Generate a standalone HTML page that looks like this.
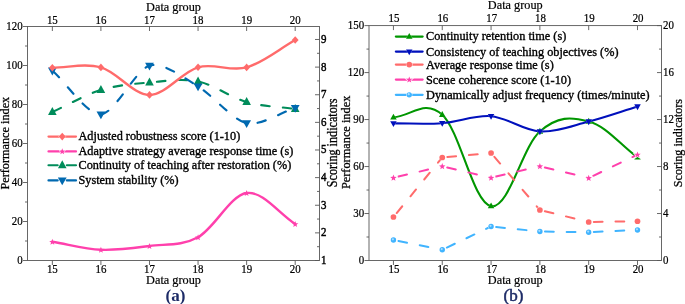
<!DOCTYPE html>
<html lang="en"><head><meta charset="utf-8"><title>Chart</title>
<style>html,body{margin:0;padding:0;background:#fff}svg{display:block}</style>
</head><body>
<svg width="685" height="304" viewBox="0 0 685 304" font-family='"Liberation Serif", "Times New Roman", serif' fill="#000">
<rect width="685" height="304" fill="#fff"/>
<path d="M52.35 112C68.54 104.67 84.73 94.92 100.92 90C117.11 85.08 133.3 83.92 149.49 82.5C165.68 81.08 181.87 78.25 198.06 81.5C214.25 84.75 230.44 97.42 246.63 102C262.82 106.58 279.01 106.67 295.2 109" fill="none" stroke="#008c5a" stroke-width="2.15" stroke-linejoin="round" stroke-linecap="round" stroke-dasharray="8.5 13.3" stroke-dashoffset="-1.1"/>
<path d="M52.35 107.09L56.65 114.89L48.05 114.89Z" fill="#008c5a"/>
<path d="M100.92 85.09L105.22 92.89L96.62 92.89Z" fill="#008c5a"/>
<path d="M149.49 77.59L153.79 85.39L145.19 85.39Z" fill="#008c5a"/>
<path d="M198.06 76.59L202.36 84.39L193.76 84.39Z" fill="#008c5a"/>
<path d="M246.63 97.09L250.93 104.89L242.33 104.89Z" fill="#008c5a"/>
<path d="M295.2 104.09L299.5 111.89L290.9 111.89Z" fill="#008c5a"/>
<path d="M52.35 70.5C66.11 82.91 87.16 114.99 100.92 114.3C114.68 113.61 135.73 69.55 149.49 65.6C163.25 61.65 184.3 78.24 198.06 86.4C211.82 94.56 232.87 120.15 246.63 123.2C260.39 126.25 281.44 112.23 295.2 107.9" fill="none" stroke="#0069b0" stroke-width="2.15" stroke-linejoin="round" stroke-linecap="round" stroke-dasharray="8.5 13.3" stroke-dashoffset="-1.1"/>
<path d="M52.35 75.41L56.75 67.61L47.95 67.61Z" fill="#0069b0"/>
<path d="M100.92 119.21L105.32 111.41L96.52 111.41Z" fill="#0069b0"/>
<path d="M149.49 70.51L153.89 62.71L145.09 62.71Z" fill="#0069b0"/>
<path d="M198.06 91.31L202.46 83.51L193.66 83.51Z" fill="#0069b0"/>
<path d="M246.63 128.11L251.03 120.31L242.23 120.31Z" fill="#0069b0"/>
<path d="M295.2 112.81L299.6 105.01L290.8 105.01Z" fill="#0069b0"/>
<path d="M52.35 67.7C68.54 67.6 84.73 62.87 100.92 67.4C117.11 71.93 133.3 94.92 149.49 94.9C165.68 94.88 181.87 71.88 198.06 67.3C214.25 62.72 230.44 71.95 246.63 67.4C262.82 62.85 279.01 49.13 295.2 40" fill="none" stroke="#ff6b6b" stroke-width="2.4" stroke-linejoin="round" stroke-linecap="round"/>
<path d="M52.35 63.9L55.75 67.7L52.35 71.5L48.95 67.7Z" fill="#ff6b6b"/>
<path d="M100.92 63.6L104.32 67.4L100.92 71.2L97.52 67.4Z" fill="#ff6b6b"/>
<path d="M149.49 91.1L152.89 94.9L149.49 98.7L146.09 94.9Z" fill="#ff6b6b"/>
<path d="M198.06 63.5L201.46 67.3L198.06 71.1L194.66 67.3Z" fill="#ff6b6b"/>
<path d="M246.63 63.6L250.03 67.4L246.63 71.2L243.23 67.4Z" fill="#ff6b6b"/>
<path d="M295.2 36.2L298.6 40L295.2 43.8L291.8 40Z" fill="#ff6b6b"/>
<path d="M52.35 241.75C68.54 244.42 84.73 249.04 100.92 249.75C117.11 250.46 133.3 248.08 149.49 246C165.68 243.92 181.87 246.08 198.06 237.25C214.25 228.42 230.44 195.21 246.63 193C262.82 190.79 279.01 213.67 295.2 224" fill="none" stroke="#ff40ac" stroke-width="2.4" stroke-linejoin="round" stroke-linecap="round"/>
<path d="M52.35 238.7L53.16 240.88L55.49 240.98L53.67 242.43L54.29 244.67L52.35 243.39L50.41 244.67L51.03 242.43L49.21 240.98L51.54 240.88Z" fill="#ff40ac"/>
<path d="M100.92 246.7L101.73 248.88L104.06 248.98L102.24 250.43L102.86 252.67L100.92 251.39L98.98 252.67L99.6 250.43L97.78 248.98L100.11 248.88Z" fill="#ff40ac"/>
<path d="M149.49 242.95L150.3 245.13L152.63 245.23L150.81 246.68L151.43 248.92L149.49 247.64L147.55 248.92L148.17 246.68L146.35 245.23L148.68 245.13Z" fill="#ff40ac"/>
<path d="M198.06 234.2L198.87 236.38L201.2 236.48L199.38 237.93L200 240.17L198.06 238.89L196.12 240.17L196.74 237.93L194.92 236.48L197.25 236.38Z" fill="#ff40ac"/>
<path d="M246.63 189.95L247.44 192.13L249.77 192.23L247.95 193.68L248.57 195.92L246.63 194.64L244.69 195.92L245.31 193.68L243.49 192.23L245.82 192.13Z" fill="#ff40ac"/>
<path d="M295.2 220.95L296.01 223.13L298.34 223.23L296.52 224.68L297.14 226.92L295.2 225.64L293.26 226.92L293.88 224.68L292.06 223.23L294.39 223.13Z" fill="#ff40ac"/>
<rect x="27.5" y="26.5" width="292.0" height="234.0" fill="none" stroke="#585858" stroke-width="0.9"/>
<text transform="translate(52.35 272.9) scale(1 1.17)" text-anchor="middle" font-size="10.9" stroke="#000" stroke-width="0.2">15</text>
<text transform="translate(52.35 23.7) scale(1 1.17)" text-anchor="middle" font-size="10.9" stroke="#000" stroke-width="0.2">15</text>
<text transform="translate(100.92 272.9) scale(1 1.17)" text-anchor="middle" font-size="10.9" stroke="#000" stroke-width="0.2">16</text>
<text transform="translate(100.92 23.7) scale(1 1.17)" text-anchor="middle" font-size="10.9" stroke="#000" stroke-width="0.2">16</text>
<text transform="translate(149.49 272.9) scale(1 1.17)" text-anchor="middle" font-size="10.9" stroke="#000" stroke-width="0.2">17</text>
<text transform="translate(149.49 23.7) scale(1 1.17)" text-anchor="middle" font-size="10.9" stroke="#000" stroke-width="0.2">17</text>
<text transform="translate(198.06 272.9) scale(1 1.17)" text-anchor="middle" font-size="10.9" stroke="#000" stroke-width="0.2">18</text>
<text transform="translate(198.06 23.7) scale(1 1.17)" text-anchor="middle" font-size="10.9" stroke="#000" stroke-width="0.2">18</text>
<text transform="translate(246.63 272.9) scale(1 1.17)" text-anchor="middle" font-size="10.9" stroke="#000" stroke-width="0.2">19</text>
<text transform="translate(246.63 23.7) scale(1 1.17)" text-anchor="middle" font-size="10.9" stroke="#000" stroke-width="0.2">19</text>
<text transform="translate(295.2 272.9) scale(1 1.17)" text-anchor="middle" font-size="10.9" stroke="#000" stroke-width="0.2">20</text>
<text transform="translate(295.2 23.7) scale(1 1.17)" text-anchor="middle" font-size="10.9" stroke="#000" stroke-width="0.2">20</text>
<text transform="translate(22.7 264) scale(1 1.17)" text-anchor="end" font-size="10.9" stroke="#000" stroke-width="0.2">0</text>
<text transform="translate(22.7 225) scale(1 1.17)" text-anchor="end" font-size="10.9" stroke="#000" stroke-width="0.2">20</text>
<text transform="translate(22.7 186) scale(1 1.17)" text-anchor="end" font-size="10.9" stroke="#000" stroke-width="0.2">40</text>
<text transform="translate(22.7 147) scale(1 1.17)" text-anchor="end" font-size="10.9" stroke="#000" stroke-width="0.2">60</text>
<text transform="translate(22.7 108) scale(1 1.17)" text-anchor="end" font-size="10.9" stroke="#000" stroke-width="0.2">80</text>
<text transform="translate(22.7 69) scale(1 1.17)" text-anchor="end" font-size="10.9" stroke="#000" stroke-width="0.2">100</text>
<text transform="translate(22.7 30) scale(1 1.17)" text-anchor="end" font-size="10.9" stroke="#000" stroke-width="0.2">120</text>
<text transform="translate(321.1 264) scale(1 1.17)" text-anchor="start" font-size="10.9" stroke="#000" stroke-width="0.4">1</text>
<text transform="translate(321.1 236.37) scale(1 1.17)" text-anchor="start" font-size="10.9" stroke="#000" stroke-width="0.4">2</text>
<text transform="translate(321.1 208.75) scale(1 1.17)" text-anchor="start" font-size="10.9" stroke="#000" stroke-width="0.4">3</text>
<text transform="translate(321.1 181.12) scale(1 1.17)" text-anchor="start" font-size="10.9" stroke="#000" stroke-width="0.4">4</text>
<text transform="translate(321.1 153.49) scale(1 1.17)" text-anchor="start" font-size="10.9" stroke="#000" stroke-width="0.4">5</text>
<text transform="translate(321.1 125.87) scale(1 1.17)" text-anchor="start" font-size="10.9" stroke="#000" stroke-width="0.4">6</text>
<text transform="translate(321.1 98.24) scale(1 1.17)" text-anchor="start" font-size="10.9" stroke="#000" stroke-width="0.4">7</text>
<text transform="translate(321.1 70.61) scale(1 1.17)" text-anchor="start" font-size="10.9" stroke="#000" stroke-width="0.4">8</text>
<text transform="translate(321.1 42.98) scale(1 1.17)" text-anchor="start" font-size="10.9" stroke="#000" stroke-width="0.4">9</text>
<path d="M52.35 260.5v4.5M52.35 26.5v4.5M100.92 260.5v4.5M100.92 26.5v4.5M149.49 260.5v4.5M149.49 26.5v4.5M198.06 260.5v4.5M198.06 26.5v4.5M246.63 260.5v4.5M246.63 26.5v4.5M295.2 260.5v4.5M295.2 26.5v4.5M27.5 260.5h-4.5M27.5 241h-2.5M27.5 221.5h-4.5M27.5 202h-2.5M27.5 182.5h-4.5M27.5 163h-2.5M27.5 143.5h-4.5M27.5 124h-2.5M27.5 104.5h-4.5M27.5 85h-2.5M27.5 65.5h-4.5M27.5 46h-2.5M27.5 26.5h-4.5M319.5 260.5h-4.5M319.5 246.69h-2.5M319.5 232.87h-4.5M319.5 219.06h-2.5M319.5 205.25h-4.5M319.5 191.43h-2.5M319.5 177.62h-4.5M319.5 163.81h-2.5M319.5 149.99h-4.5M319.5 136.18h-2.5M319.5 122.37h-4.5M319.5 108.55h-2.5M319.5 94.74h-4.5M319.5 80.93h-2.5M319.5 67.11h-4.5M319.5 53.3h-2.5M319.5 39.48h-4.5" stroke="#585858" stroke-width="0.9" fill="none"/>
<text x="173.5" y="11" text-anchor="middle" font-size="12.25" stroke="#000" stroke-width="0.2">Data group</text>
<text x="173.5" y="283.5" text-anchor="middle" font-size="12.25" stroke="#000" stroke-width="0.2">Data group</text>
<text transform="translate(9.3 143.2) rotate(-90) scale(1 1.0)" text-anchor="middle" font-size="12.25" stroke="#000" stroke-width="0.25">Performance index</text>
<text transform="translate(337 142.85) rotate(-90) scale(1 1.14)" text-anchor="middle" font-size="12.16" stroke="#000" stroke-width="0.25">Scoring indicators</text>
<text x="175.4" y="300.7" text-anchor="middle" font-size="17" font-weight="bold" fill="#1c2a66">(a)</text>
<path d="M48.5 136.6H76" stroke="#ff6b6b" stroke-width="2.2" stroke-linecap="round"/>
<path d="M62.25 132.8L65.65 136.6L62.25 140.4L58.85 136.6Z" fill="#ff6b6b" stroke="#fff" stroke-width="0.6" paint-order="stroke" stroke-linejoin="miter"/>
<text transform="translate(78.5 140.45) scale(1 0.96)" text-anchor="start" font-size="12.27" stroke="#000" stroke-width="0.35">Adjusted robustness score (1-10)</text>
<path d="M48.5 151.4H76" stroke="#ff40ac" stroke-width="2.2" stroke-linecap="round"/>
<path d="M62.25 148.35L63.06 150.53L65.39 150.63L63.57 152.08L64.19 154.32L62.25 153.04L60.31 154.32L60.93 152.08L59.11 150.63L61.44 150.53Z" fill="#ff40ac" stroke="#fff" stroke-width="0.9" paint-order="stroke" stroke-linejoin="miter"/>
<text transform="translate(78.5 155.05) scale(1 0.96)" text-anchor="start" font-size="12.27" stroke="#000" stroke-width="0.35">Adaptive strategy average response time (s)</text>
<path d="M48.5 165.25H57.65M66.85 165.25H76" stroke="#008c5a" stroke-width="2.2" stroke-linecap="round"/>
<path d="M62.25 160.34L66.55 168.14L57.95 168.14Z" fill="#008c5a"/>
<text transform="translate(78.5 169) scale(1 0.96)" text-anchor="start" font-size="12.27" stroke="#000" stroke-width="0.35">Continuity of teaching after restoration (%)</text>
<path d="M48.5 180.4H57.65M66.85 180.4H76" stroke="#0069b0" stroke-width="2.2" stroke-linecap="round"/>
<path d="M62.25 185.31L66.65 177.51L57.85 177.51Z" fill="#0069b0"/>
<text transform="translate(78.5 184.05) scale(1 0.96)" text-anchor="start" font-size="12.27" stroke="#000" stroke-width="0.35">System stability (%)</text>
<path d="M393.45 117.3C411.35 116.36 424.36 98.47 442.26 114.75C460.16 131.03 473.17 203.03 491.07 206.1C508.97 209.17 521.98 147.01 539.88 131.5C557.78 115.99 570.79 116.75 588.69 121.5C606.59 126.25 619.6 144.24 637.5 157.4" fill="none" stroke="#009600" stroke-width="2.1" stroke-linejoin="round" stroke-linecap="round"/>
<path d="M393.45 113.65L396.7 119.45L390.2 119.45Z" fill="#009600" stroke="#fff" stroke-width="0.3" paint-order="stroke" stroke-linejoin="miter"/>
<path d="M442.26 111.1L445.51 116.9L439.01 116.9Z" fill="#009600" stroke="#fff" stroke-width="0.3" paint-order="stroke" stroke-linejoin="miter"/>
<path d="M491.07 202.45L494.32 208.25L487.82 208.25Z" fill="#009600" stroke="#fff" stroke-width="0.3" paint-order="stroke" stroke-linejoin="miter"/>
<path d="M539.88 127.85L543.13 133.65L536.63 133.65Z" fill="#009600" stroke="#fff" stroke-width="0.3" paint-order="stroke" stroke-linejoin="miter"/>
<path d="M588.69 117.85L591.94 123.65L585.44 123.65Z" fill="#009600" stroke="#fff" stroke-width="0.3" paint-order="stroke" stroke-linejoin="miter"/>
<path d="M637.5 153.75L640.75 159.55L634.25 159.55Z" fill="#009600" stroke="#fff" stroke-width="0.3" paint-order="stroke" stroke-linejoin="miter"/>
<path d="M393.45 123.4C409.72 123.33 425.99 124.4 442.26 123.2C458.53 122 474.8 114.82 491.07 116.2C507.34 117.58 523.61 130.62 539.88 131.5C556.15 132.38 572.42 125.67 588.69 121.5C604.96 117.33 621.23 111.5 637.5 106.5" fill="none" stroke="#0010bc" stroke-width="2.05" stroke-linejoin="round" stroke-linecap="round"/>
<path d="M393.45 127.05L396.7 121.25L390.2 121.25Z" fill="#0010bc" stroke="#fff" stroke-width="0.3" paint-order="stroke" stroke-linejoin="miter"/>
<path d="M442.26 126.85L445.51 121.05L439.01 121.05Z" fill="#0010bc" stroke="#fff" stroke-width="0.3" paint-order="stroke" stroke-linejoin="miter"/>
<path d="M491.07 119.85L494.32 114.05L487.82 114.05Z" fill="#0010bc" stroke="#fff" stroke-width="0.3" paint-order="stroke" stroke-linejoin="miter"/>
<path d="M539.88 135.15L543.13 129.35L536.63 129.35Z" fill="#0010bc" stroke="#fff" stroke-width="0.3" paint-order="stroke" stroke-linejoin="miter"/>
<path d="M588.69 125.15L591.94 119.35L585.44 119.35Z" fill="#0010bc" stroke="#fff" stroke-width="0.3" paint-order="stroke" stroke-linejoin="miter"/>
<path d="M637.5 110.15L640.75 104.35L634.25 104.35Z" fill="#0010bc" stroke="#fff" stroke-width="0.3" paint-order="stroke" stroke-linejoin="miter"/>
<path d="M393.45 217L442.26 157.5" fill="none" stroke="#ff6b6b" stroke-width="2.0" stroke-linecap="round" stroke-dasharray="8.8 12.9" stroke-dashoffset="-5.1"/>
<path d="M442.26 157.5L491.07 153" fill="none" stroke="#ff6b6b" stroke-width="2.0" stroke-linecap="round" stroke-dasharray="8.8 12.9" stroke-dashoffset="-5.1"/>
<path d="M491.07 153L539.88 210" fill="none" stroke="#ff6b6b" stroke-width="2.0" stroke-linecap="round" stroke-dasharray="8.8 12.9" stroke-dashoffset="-5.1"/>
<path d="M539.88 210L588.69 222" fill="none" stroke="#ff6b6b" stroke-width="2.0" stroke-linecap="round" stroke-dasharray="8.8 12.9" stroke-dashoffset="-5.1"/>
<path d="M588.69 222L637.5 221.25" fill="none" stroke="#ff6b6b" stroke-width="2.0" stroke-linecap="round" stroke-dasharray="8.8 12.9" stroke-dashoffset="-5.1"/>
<circle cx="393.45" cy="217" r="2.85" fill="#ff6b6b" stroke="#fff" stroke-width="1.0" paint-order="stroke" stroke-linejoin="miter"/>
<circle cx="442.26" cy="157.5" r="2.85" fill="#ff6b6b" stroke="#fff" stroke-width="1.0" paint-order="stroke" stroke-linejoin="miter"/>
<circle cx="491.07" cy="153" r="2.85" fill="#ff6b6b" stroke="#fff" stroke-width="1.0" paint-order="stroke" stroke-linejoin="miter"/>
<circle cx="539.88" cy="210" r="2.85" fill="#ff6b6b" stroke="#fff" stroke-width="1.0" paint-order="stroke" stroke-linejoin="miter"/>
<circle cx="588.69" cy="222" r="2.85" fill="#ff6b6b" stroke="#fff" stroke-width="1.0" paint-order="stroke" stroke-linejoin="miter"/>
<circle cx="637.5" cy="221.25" r="2.85" fill="#ff6b6b" stroke="#fff" stroke-width="1.0" paint-order="stroke" stroke-linejoin="miter"/>
<path d="M393.45 177.75L442.26 166.25" fill="none" stroke="#ff40ac" stroke-width="2.0" stroke-linecap="round" stroke-dasharray="8.8 12.9" stroke-dashoffset="-5.1"/>
<path d="M442.26 166.25L491.07 177.75" fill="none" stroke="#ff40ac" stroke-width="2.0" stroke-linecap="round" stroke-dasharray="8.8 12.9" stroke-dashoffset="-5.1"/>
<path d="M491.07 177.75L539.88 166.25" fill="none" stroke="#ff40ac" stroke-width="2.0" stroke-linecap="round" stroke-dasharray="8.8 12.9" stroke-dashoffset="-5.1"/>
<path d="M539.88 166.25L588.69 178" fill="none" stroke="#ff40ac" stroke-width="2.0" stroke-linecap="round" stroke-dasharray="8.8 12.9" stroke-dashoffset="-5.1"/>
<path d="M588.69 178L637.5 154.6" fill="none" stroke="#ff40ac" stroke-width="2.0" stroke-linecap="round" stroke-dasharray="8.8 12.9" stroke-dashoffset="-5.1"/>
<path d="M393.45 174.6L394.29 176.84L396.68 176.95L394.81 178.44L395.45 180.75L393.45 179.43L391.45 180.75L392.09 178.44L390.22 176.95L392.61 176.84Z" fill="#ff40ac" stroke="#fff" stroke-width="1.2" paint-order="stroke" stroke-linejoin="miter"/>
<path d="M442.26 163.1L443.1 165.34L445.49 165.45L443.62 166.94L444.26 169.25L442.26 167.93L440.26 169.25L440.9 166.94L439.03 165.45L441.42 165.34Z" fill="#ff40ac" stroke="#fff" stroke-width="1.2" paint-order="stroke" stroke-linejoin="miter"/>
<path d="M491.07 174.6L491.91 176.84L494.3 176.95L492.43 178.44L493.07 180.75L491.07 179.43L489.07 180.75L489.71 178.44L487.84 176.95L490.23 176.84Z" fill="#ff40ac" stroke="#fff" stroke-width="1.2" paint-order="stroke" stroke-linejoin="miter"/>
<path d="M539.88 163.1L540.72 165.34L543.11 165.45L541.24 166.94L541.88 169.25L539.88 167.93L537.88 169.25L538.52 166.94L536.65 165.45L539.04 165.34Z" fill="#ff40ac" stroke="#fff" stroke-width="1.2" paint-order="stroke" stroke-linejoin="miter"/>
<path d="M588.69 174.85L589.53 177.09L591.92 177.2L590.05 178.69L590.69 181L588.69 179.68L586.69 181L587.33 178.69L585.46 177.2L587.85 177.09Z" fill="#ff40ac" stroke="#fff" stroke-width="1.2" paint-order="stroke" stroke-linejoin="miter"/>
<path d="M637.5 151.45L638.34 153.69L640.73 153.8L638.86 155.29L639.5 157.6L637.5 156.28L635.5 157.6L636.14 155.29L634.27 153.8L636.66 153.69Z" fill="#ff40ac" stroke="#fff" stroke-width="1.2" paint-order="stroke" stroke-linejoin="miter"/>
<path d="M393.45 240L442.26 249.75" fill="none" stroke="#40b4ff" stroke-width="2.0" stroke-linecap="round" stroke-dasharray="8.8 12.9" stroke-dashoffset="-5.1"/>
<path d="M442.26 249.75L491.07 226.5" fill="none" stroke="#40b4ff" stroke-width="2.0" stroke-linecap="round" stroke-dasharray="8.8 12.9" stroke-dashoffset="-5.1"/>
<path d="M491.07 226.5L539.88 231.5" fill="none" stroke="#40b4ff" stroke-width="2.0" stroke-linecap="round" stroke-dasharray="8.8 12.9" stroke-dashoffset="-5.1"/>
<path d="M539.88 231.5L588.69 232.25" fill="none" stroke="#40b4ff" stroke-width="2.0" stroke-linecap="round" stroke-dasharray="8.8 12.9" stroke-dashoffset="-5.1"/>
<path d="M588.69 232.25L637.5 230" fill="none" stroke="#40b4ff" stroke-width="2.0" stroke-linecap="round" stroke-dasharray="8.8 12.9" stroke-dashoffset="-5.1"/>
<circle cx="393.45" cy="240" r="2.7" fill="#40b4ff" stroke="#fff" stroke-width="1.0" paint-order="stroke" stroke-linejoin="miter"/><circle cx="392.91" cy="239.35" r="1.08" fill="#fff" fill-opacity="0.55"/>
<circle cx="442.26" cy="249.75" r="2.7" fill="#40b4ff" stroke="#fff" stroke-width="1.0" paint-order="stroke" stroke-linejoin="miter"/><circle cx="441.72" cy="249.1" r="1.08" fill="#fff" fill-opacity="0.55"/>
<circle cx="491.07" cy="226.5" r="2.7" fill="#40b4ff" stroke="#fff" stroke-width="1.0" paint-order="stroke" stroke-linejoin="miter"/><circle cx="490.53" cy="225.85" r="1.08" fill="#fff" fill-opacity="0.55"/>
<circle cx="539.88" cy="231.5" r="2.7" fill="#40b4ff" stroke="#fff" stroke-width="1.0" paint-order="stroke" stroke-linejoin="miter"/><circle cx="539.34" cy="230.85" r="1.08" fill="#fff" fill-opacity="0.55"/>
<circle cx="588.69" cy="232.25" r="2.7" fill="#40b4ff" stroke="#fff" stroke-width="1.0" paint-order="stroke" stroke-linejoin="miter"/><circle cx="588.15" cy="231.6" r="1.08" fill="#fff" fill-opacity="0.55"/>
<circle cx="637.5" cy="230" r="2.7" fill="#40b4ff" stroke="#fff" stroke-width="1.0" paint-order="stroke" stroke-linejoin="miter"/><circle cx="636.96" cy="229.35" r="1.08" fill="#fff" fill-opacity="0.55"/>
<rect x="369" y="25.6" width="292.5" height="234.9" fill="none" stroke="#585858" stroke-width="0.9"/>
<text transform="translate(394.05 273.1) scale(1 1.17)" text-anchor="middle" font-size="10.9" stroke="#000" stroke-width="0.2">15</text>
<text transform="translate(394.05 21.6) scale(1 1.17)" text-anchor="middle" font-size="10.9" stroke="#000" stroke-width="0.2">15</text>
<text transform="translate(442.86 273.1) scale(1 1.17)" text-anchor="middle" font-size="10.9" stroke="#000" stroke-width="0.2">16</text>
<text transform="translate(442.86 21.6) scale(1 1.17)" text-anchor="middle" font-size="10.9" stroke="#000" stroke-width="0.2">16</text>
<text transform="translate(491.67 273.1) scale(1 1.17)" text-anchor="middle" font-size="10.9" stroke="#000" stroke-width="0.2">17</text>
<text transform="translate(491.67 21.6) scale(1 1.17)" text-anchor="middle" font-size="10.9" stroke="#000" stroke-width="0.2">17</text>
<text transform="translate(540.48 273.1) scale(1 1.17)" text-anchor="middle" font-size="10.9" stroke="#000" stroke-width="0.2">18</text>
<text transform="translate(540.48 21.6) scale(1 1.17)" text-anchor="middle" font-size="10.9" stroke="#000" stroke-width="0.2">18</text>
<text transform="translate(589.29 273.1) scale(1 1.17)" text-anchor="middle" font-size="10.9" stroke="#000" stroke-width="0.2">19</text>
<text transform="translate(589.29 21.6) scale(1 1.17)" text-anchor="middle" font-size="10.9" stroke="#000" stroke-width="0.2">19</text>
<text transform="translate(638.1 273.1) scale(1 1.17)" text-anchor="middle" font-size="10.9" stroke="#000" stroke-width="0.2">20</text>
<text transform="translate(638.1 21.6) scale(1 1.17)" text-anchor="middle" font-size="10.9" stroke="#000" stroke-width="0.2">20</text>
<text transform="translate(364.2 263.5) scale(1 1.17)" text-anchor="end" font-size="10.9" stroke="#000" stroke-width="0.2">0</text>
<text transform="translate(364.2 216.52) scale(1 1.17)" text-anchor="end" font-size="10.9" stroke="#000" stroke-width="0.2">30</text>
<text transform="translate(364.2 169.54) scale(1 1.17)" text-anchor="end" font-size="10.9" stroke="#000" stroke-width="0.2">60</text>
<text transform="translate(364.2 122.56) scale(1 1.17)" text-anchor="end" font-size="10.9" stroke="#000" stroke-width="0.2">90</text>
<text transform="translate(364.2 75.58) scale(1 1.17)" text-anchor="end" font-size="10.9" stroke="#000" stroke-width="0.2">120</text>
<text transform="translate(364.2 28.6) scale(1 1.17)" text-anchor="end" font-size="10.9" stroke="#000" stroke-width="0.2">150</text>
<text transform="translate(663.1 263.5) scale(1 1.17)" text-anchor="start" font-size="10.9" stroke="#000" stroke-width="0.2">0</text>
<text transform="translate(663.1 216.52) scale(1 1.17)" text-anchor="start" font-size="10.9" stroke="#000" stroke-width="0.2">4</text>
<text transform="translate(663.1 169.54) scale(1 1.17)" text-anchor="start" font-size="10.9" stroke="#000" stroke-width="0.2">8</text>
<text transform="translate(663.1 122.56) scale(1 1.17)" text-anchor="start" font-size="10.9" stroke="#000" stroke-width="0.2">12</text>
<text transform="translate(663.1 75.58) scale(1 1.17)" text-anchor="start" font-size="10.9" stroke="#000" stroke-width="0.2">16</text>
<text transform="translate(663.1 28.6) scale(1 1.17)" text-anchor="start" font-size="10.9" stroke="#000" stroke-width="0.2">20</text>
<path d="M393.45 260.5v4.5M393.45 25.6v4.5M442.26 260.5v4.5M442.26 25.6v4.5M491.07 260.5v4.5M491.07 25.6v4.5M539.88 260.5v4.5M539.88 25.6v4.5M588.69 260.5v4.5M588.69 25.6v4.5M637.5 260.5v4.5M637.5 25.6v4.5M369 260.5h-4.5M369 237.01h-2.5M369 213.52h-4.5M369 190.03h-2.5M369 166.54h-4.5M369 143.05h-2.5M369 119.56h-4.5M369 96.07h-2.5M369 72.58h-4.5M369 49.09h-2.5M369 25.6h-4.5M661.5 260.5h-4.5M661.5 237.01h-2.5M661.5 213.52h-4.5M661.5 190.03h-2.5M661.5 166.54h-4.5M661.5 143.05h-2.5M661.5 119.56h-4.5M661.5 96.07h-2.5M661.5 72.58h-4.5M661.5 49.09h-2.5M661.5 25.6h-4.5" stroke="#585858" stroke-width="0.9" fill="none"/>
<text x="515.25" y="8.6" text-anchor="middle" font-size="12.25" stroke="#000" stroke-width="0.2">Data group</text>
<text x="515.25" y="283.5" text-anchor="middle" font-size="12.25" stroke="#000" stroke-width="0.2">Data group</text>
<text transform="translate(349.6 142.4) rotate(-90) scale(1 1.08)" text-anchor="middle" font-size="12.33" stroke="#000" stroke-width="0.25">Performance index</text>
<text transform="translate(682.3 143.05) rotate(-90) scale(1 1.04)" text-anchor="middle" font-size="12.1" stroke="#000" stroke-width="0.25">Scoring indicators</text>
<text x="513.4" y="300.7" text-anchor="middle" font-size="17" stroke="#1c2a66" stroke-width="0.5" fill="#1c2a66">(b)</text>
<path d="M395.9 36.6H422.6" stroke="#009600" stroke-width="2.3" stroke-linecap="round"/>
<path d="M409.25 32.95L412.5 38.75L406 38.75Z" fill="#009600" stroke="#fff" stroke-width="0.3" paint-order="stroke" stroke-linejoin="miter"/>
<text transform="translate(426 39.75) scale(1 0.96)" text-anchor="start" font-size="12.3" stroke="#000" stroke-width="0.35">Continuity retention time (s)</text>
<path d="M395.9 51.6H422.6" stroke="#0010bc" stroke-width="2.3" stroke-linecap="round"/>
<path d="M409.25 55.25L412.5 49.45L406 49.45Z" fill="#0010bc" stroke="#fff" stroke-width="0.3" paint-order="stroke" stroke-linejoin="miter"/>
<text transform="translate(426 55.9) scale(1 0.96)" text-anchor="start" font-size="12.3" stroke="#000" stroke-width="0.35">Consistency of teaching objectives (%)</text>
<path d="M395.9 64.6H407.25M411.25 64.6H422.6" stroke="#ff6b6b" stroke-width="2.3" stroke-linecap="round"/>
<circle cx="409.25" cy="64.6" r="2.85" fill="#ff6b6b" stroke="#fff" stroke-width="1.0" paint-order="stroke" stroke-linejoin="miter"/>
<text transform="translate(426 69) scale(1 0.96)" text-anchor="start" font-size="12.3" stroke="#000" stroke-width="0.35">Average response time (s)</text>
<path d="M395.9 79.55H407.25M411.25 79.55H422.6" stroke="#ff40ac" stroke-width="2.3" stroke-linecap="round"/>
<path d="M409.25 76.4L410.09 78.64L412.48 78.75L410.61 80.24L411.25 82.55L409.25 81.23L407.25 82.55L407.89 80.24L406.02 78.75L408.41 78.64Z" fill="#ff40ac" stroke="#fff" stroke-width="1.2" paint-order="stroke" stroke-linejoin="miter"/>
<text transform="translate(426 83.8) scale(1 0.96)" text-anchor="start" font-size="12.3" stroke="#000" stroke-width="0.35">Scene coherence score (1-10)</text>
<path d="M395.9 94.85H407.25M411.25 94.85H422.6" stroke="#40b4ff" stroke-width="2.3" stroke-linecap="round"/>
<circle cx="409.25" cy="94.85" r="2.7" fill="#40b4ff" stroke="#fff" stroke-width="1.0" paint-order="stroke" stroke-linejoin="miter"/><circle cx="408.71" cy="94.2" r="1.08" fill="#fff" fill-opacity="0.55"/>
<text transform="translate(426 99) scale(1 0.96)" text-anchor="start" font-size="12.3" stroke="#000" stroke-width="0.35">Dynamically adjust frequency (times/minute)</text>
</svg>
</body></html>
